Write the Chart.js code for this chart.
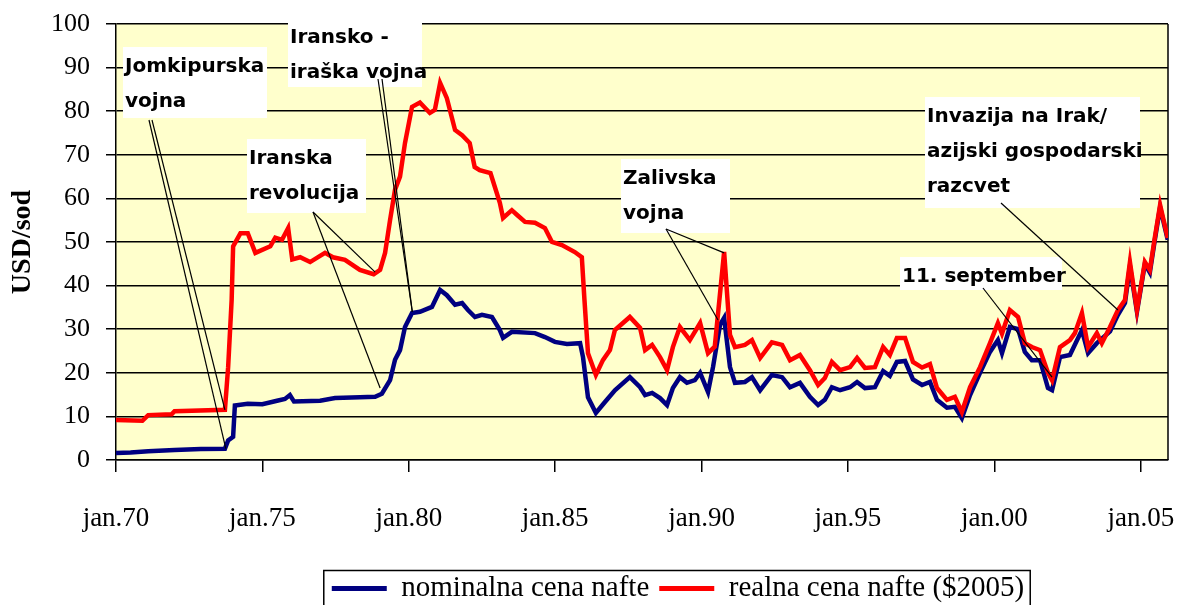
<!DOCTYPE html>
<html>
<head>
<meta charset="utf-8">
<script src="https://cdn.jsdelivr.net/npm/chart.js@4.4.1/dist/chart.umd.min.js"></script>
<style>
  html, body { margin: 0; padding: 0; background: #fff; }
</style>
</head>
<body>
<canvas id="oilChart" width="1188" height="605"></canvas>
<script>
// tick labels / categories
const xTickYears = [1970, 1975, 1980, 1985, 1990, 1995, 2000, 2005];
const seriesLabels = ['nominalna cena nafte', 'realna cena nafte ($2005)'];

// nominal price (USD per barrel)
const nominalYears = [1970.0, 1970.5, 1971.1, 1972.0, 1972.9, 1973.72, 1973.83, 1974.0, 1974.06, 1974.5, 1975.0, 1975.5, 1975.77, 1975.94, 1976.08, 1976.97, 1977.48, 1978.33, 1978.85, 1979.08, 1979.36, 1979.53, 1979.7, 1979.87, 1980.11, 1980.38, 1980.79, 1981.07, 1981.3, 1981.58, 1981.82, 1982.02, 1982.26, 1982.5, 1982.84, 1983.11, 1983.22, 1983.52, 1984.31, 1984.65, 1984.99, 1985.4, 1985.85, 1985.95, 1986.12, 1986.39, 1986.7, 1987.04, 1987.55, 1987.9, 1988.07, 1988.31, 1988.58, 1988.82, 1989.02, 1989.26, 1989.5, 1989.77, 1989.95, 1990.22, 1990.39, 1990.63, 1990.77, 1990.97, 1991.14, 1991.48, 1991.72, 1992.0, 1992.4, 1992.75, 1993.02, 1993.36, 1993.7, 1993.98, 1994.21, 1994.45, 1994.73, 1995.07, 1995.31, 1995.58, 1995.92, 1996.2, 1996.43, 1996.67, 1996.95, 1997.22, 1997.53, 1997.8, 1998.04, 1998.38, 1998.65, 1998.89, 1999.17, 1999.51, 1999.85, 2000.12, 2000.26, 2000.53, 2000.81, 2001.04, 2001.28, 2001.56, 2001.83, 2001.97, 2002.24, 2002.58, 2002.99, 2003.2, 2003.5, 2003.95, 2004.22, 2004.46, 2004.63, 2004.87, 2005.14, 2005.31, 2005.48, 2005.66, 2005.92];
const nominalPrices = [1.6, 1.7, 2.0, 2.3, 2.5, 2.6, 4.5, 5.3, 12.5, 12.9, 12.8, 13.6, 14.0, 14.9, 13.4, 13.6, 14.2, 14.4, 14.5, 15.2, 18.3, 23, 25.2, 30.5, 33.7, 34, 35.1, 39, 37.8, 35.6, 36, 34.4, 32.8, 33.3, 32.8, 29.8, 28, 29.4, 29.1, 28.2, 27.1, 26.6, 26.8, 23.6, 14.4, 10.8, 13.3, 16, 19, 16.7, 14.9, 15.4, 14.2, 12.6, 16.5, 19, 17.7, 18.3, 20, 15.6, 21.3, 31, 32.6, 21.3, 17.7, 17.9, 19, 16, 19.5, 19, 16.7, 17.7, 14.5, 12.6, 13.8, 16.7, 16, 16.7, 17.9, 16.5, 16.7, 20.4, 19.3, 22.5, 22.7, 18.5, 17.2, 17.9, 13.8, 12, 12.2, 9.6, 14.9, 20, 24.8, 27.5, 24.5, 30.5, 30, 24.8, 22.9, 22.9, 16.5, 16, 23.6, 24.1, 29.8, 24.5, 26.8, 29.5, 33.3, 36, 44.5, 34, 45, 43, 50.5, 58, 50.5];

// real price in 2005 dollars
const realYears = [1970.0, 1970.9, 1971.1, 1971.9, 1972.0, 1973.72, 1973.83, 1973.95, 1974.0, 1974.25, 1974.5, 1974.76, 1975.27, 1975.44, 1975.67, 1975.88, 1976.02, 1976.29, 1976.63, 1976.97, 1977.14, 1977.41, 1977.82, 1978.33, 1978.8, 1979.02, 1979.19, 1979.36, 1979.53, 1979.7, 1979.87, 1980.11, 1980.38, 1980.72, 1980.89, 1981.07, 1981.3, 1981.58, 1981.82, 1982.08, 1982.25, 1982.42, 1982.79, 1983.11, 1983.22, 1983.52, 1983.7, 1983.97, 1984.31, 1984.65, 1984.89, 1985.23, 1985.67, 1985.91, 1986.0, 1986.12, 1986.39, 1986.63, 1986.87, 1987.04, 1987.55, 1987.9, 1988.07, 1988.31, 1988.58, 1988.82, 1989.02, 1989.26, 1989.6, 1989.95, 1990.22, 1990.45, 1990.77, 1990.97, 1991.14, 1991.48, 1991.72, 1992.0, 1992.4, 1992.75, 1993.02, 1993.36, 1993.7, 1993.98, 1994.21, 1994.45, 1994.73, 1995.07, 1995.31, 1995.58, 1995.92, 1996.2, 1996.43, 1996.67, 1996.95, 1997.22, 1997.53, 1997.8, 1998.04, 1998.38, 1998.65, 1998.89, 1999.17, 1999.51, 1999.85, 2000.12, 2000.26, 2000.53, 2000.81, 2001.04, 2001.28, 2001.56, 2001.83, 2001.97, 2002.24, 2002.58, 2002.75, 2002.99, 2003.2, 2003.5, 2003.67, 2003.95, 2004.22, 2004.46, 2004.63, 2004.87, 2005.14, 2005.31, 2005.48, 2005.66, 2005.92];
const realPrices = [9.2, 9.0, 10.3, 10.5, 11.2, 11.5, 21.3, 36.7, 49, 52, 52, 47.5, 49, 51, 50.5, 53.2, 46, 46.5, 45.4, 46.8, 47.5, 46.5, 45.9, 43.6, 42.6, 43.6, 47.5, 55, 62, 65, 72.7, 81, 82, 79.6, 80.3, 86.5, 83, 75.7, 74.5, 72.7, 67.2, 66.5, 65.8, 59, 55.5, 57.3, 56.2, 54.6, 54.4, 53.2, 50, 49.3, 47.7, 46.5, 36.7, 24.5, 19.5, 22.9, 25.2, 29.8, 32.8, 30.3, 25.2, 26.4, 23.6, 20.6, 25.9, 30.5, 27.5, 31.4, 24.5, 26, 47.7, 28.7, 25.9, 26.4, 27.5, 23.4, 27, 26.4, 22.9, 24.1, 20.6, 17.2, 18.8, 22.5, 20.6, 21.3, 23.4, 21.1, 21.3, 25.9, 24.1, 28, 28, 22.5, 21.2, 22, 16.5, 13.8, 14.5, 11, 16.7, 21.3, 26.8, 31.4, 29, 34.4, 32.8, 26.8, 25.9, 25.2, 20, 18.3, 25.9, 27.5, 29.1, 33.7, 25.9, 29.1, 26.8, 30.5, 34.4, 36.7, 45.4, 34.4, 45.4, 43.6, 51, 58.5, 50.9];

// event captions and the (year, price) points they point at
const eventTexts = [
  ['Jomkipurska', 'vojna'],
  ['Iranska', 'revolucija'],
  ['Iransko -', 'iraška vojna'],
  ['Zalivska', 'vojna'],
  ['11. september'],
  ['Invazija na Irak/', 'azijski gospodarski', 'razcvet']
];
const eventTargets = [
  [[1973.75, 2.6], [1973.72, 11.5]],
  [[1978.85, 43.1], [1979.02, 16.5]],
  [[1980.12, 34.0], [1980.12, 34.0]],
  [[1990.77, 47.5], [1990.56, 32.1]],
  [[2001.97, 19.0]],
  [[2004.22, 34.4]]
];

// callout layout (pixels): box and where the pointer lines leave it
const calloutLayout = [
  { x: 123, y: 47, w: 144, h: 71, from: [[149, 120], [152, 120]] },
  { x: 247, y: 139, w: 119, h: 74, from: [[313, 212], [313, 212]] },
  { x: 288, y: 18, w: 134, h: 69, from: [[378, 79], [382, 79]] },
  { x: 621, y: 159, w: 109, h: 74, from: [[666, 229], [666, 229]] },
  { x: 900, y: 257, w: 162, h: 33, from: [[983, 288]] },
  { x: 925, y: 97, w: 215, h: 111, from: [[1001, 203]] }
];

const plotBackground = {
  id: 'plotBackground',
  beforeDraw(chart) {
    const { ctx, chartArea: a } = chart;
    ctx.save();
    ctx.fillStyle = '#fff';
    ctx.fillRect(0, 0, chart.width, chart.height);
    ctx.fillStyle = '#FFFFCC';
    ctx.fillRect(a.left, a.top, a.right - a.left, a.bottom - a.top);
    ctx.restore();
  },
  beforeDatasetsDraw(chart) {
    const { ctx, chartArea: a } = chart;
    ctx.save();
    ctx.strokeStyle = '#000';
    ctx.lineWidth = 1.5;
    ctx.beginPath();
    ctx.moveTo(a.right, a.top);
    ctx.lineTo(a.right, a.bottom);
    ctx.stroke();
    ctx.restore();
  }
};

const callouts = {
  id: 'callouts',
  afterDatasetsDraw(chart) {
    const { ctx } = chart;
    const xs = chart.scales.x, ys = chart.scales.y;
    ctx.save();
    eventTexts.forEach((lines, i) => {
      const b = calloutLayout[i];
      ctx.fillStyle = '#fff';
      ctx.fillRect(b.x, b.y, b.w, b.h);
      ctx.fillStyle = '#000';
      ctx.font = 'bold 20px "DejaVu Sans"';
      ctx.textBaseline = 'alphabetic';
      ctx.textAlign = 'left';
      lines.forEach((t, j) => ctx.fillText(t, b.x + 2, b.y + 25 + j * 35));
      ctx.strokeStyle = '#000';
      ctx.lineWidth = 1.2;
      eventTargets[i].forEach((p, k) => {
        const f = b.from[k] || b.from[0];
        ctx.beginPath();
        ctx.moveTo(f[0], f[1]);
        ctx.lineTo(xs.getPixelForValue(p[0]), ys.getPixelForValue(p[1]));
        ctx.stroke();
      });
    });
    ctx.restore();
  }
};

const legendPlacement = {
  id: 'legendPlacement',
  afterLayout(chart) {
    const lg = chart.legend;
    const dx = 678 - (lg.left + lg.right) / 2;
    const dy = 8;
    lg.left += dx; lg.right += dx;
    lg.top += dy; lg.bottom += dy;
  },
  afterDraw(chart) {
    const boxes = chart.legend.legendHitBoxes;
    if (!boxes || !boxes.length) return;
    const first = boxes[0], last = boxes[boxes.length - 1];
    const { ctx } = chart;
    const cy = first.top + first.height / 2;
    ctx.save();
    ctx.strokeStyle = '#000';
    ctx.lineWidth = 1.5;
    ctx.strokeRect(first.left - 8, cy - 18, last.left + last.width - first.left + 14, 60);
    ctx.restore();
  }
};

const ctx = document.getElementById('oilChart').getContext('2d');
new Chart(ctx, {
  type: 'line',
  data: {
    datasets: [
      {
        label: seriesLabels[0],
        data: nominalYears.map((x, i) => ({ x: x, y: nominalPrices[i] })),
        borderColor: '#000080',
        backgroundColor: '#000080',
        borderWidth: 4.5,
        pointRadius: 0,
        tension: 0,
        order: 2
      },
      {
        label: seriesLabels[1],
        data: realYears.map((x, i) => ({ x: x, y: realPrices[i] })),
        borderColor: '#FF0000',
        backgroundColor: '#FF0000',
        borderWidth: 4.5,
        pointRadius: 0,
        tension: 0,
        order: 1
      }
    ]
  },
  options: {
    responsive: false,
    animation: false,
    devicePixelRatio: 1,
    layout: { padding: { top: 24, right: 20, left: 0, bottom: 0 } },
    plugins: {
      legend: {
        position: 'bottom',
        labels: {
          color: '#000',
          font: { family: 'Liberation Serif', size: 29 },
          boxWidth: 55,
          boxHeight: 5,
          padding: 10,
          sort: (a, b) => a.datasetIndex - b.datasetIndex,
          generateLabels(chart) {
            const items = Chart.defaults.plugins.legend.labels.generateLabels(chart);
            items.forEach(it => { it.lineWidth = 0; });
            return items;
          }
        }
      },
      tooltip: { enabled: false },
      title: { display: false }
    },
    scales: {
      x: {
        type: 'linear',
        min: 1970,
        max: 2005.93,
        afterFit(scale) {
          scale.height = 96;
          scale.paddingLeft = 0;
          scale.paddingRight = 0;
        },
        afterBuildTicks(scale) { scale.ticks = xTickYears.map(v => ({ value: v })); },
        ticks: {
          color: '#000',
          font: { family: 'Liberation Serif', size: 27 },
          padding: 31,
          maxRotation: 0,
          autoSkip: false,
          callback: v => 'jan.' + String(v % 100).padStart(2, '0')
        },
        grid: { drawOnChartArea: false, drawTicks: true, tickLength: 12, color: '#000', lineWidth: 1.5 },
        border: { color: '#000', width: 1.5 }
      },
      y: {
        min: 0,
        max: 100,
        afterFit(scale) {
          scale.width = 116;
          scale.paddingTop = 0;
          scale.paddingBottom = 0;
        },
        ticks: {
          stepSize: 10,
          color: '#000',
          font: { family: 'Liberation Serif', size: 26 },
          padding: 16
        },
        grid: { color: '#000', lineWidth: 1.5, tickLength: 10, drawTicks: true },
        border: { color: '#000', width: 1.5 },
        title: {
          display: true,
          text: 'USD/sod',
          color: '#000',
          font: { family: 'Liberation Serif', size: 28, weight: 'bold' },
          padding: { top: 6, bottom: 0 }
        }
      }
    }
  },
  plugins: [plotBackground, callouts, legendPlacement]
});
</script>
</body>
</html>
